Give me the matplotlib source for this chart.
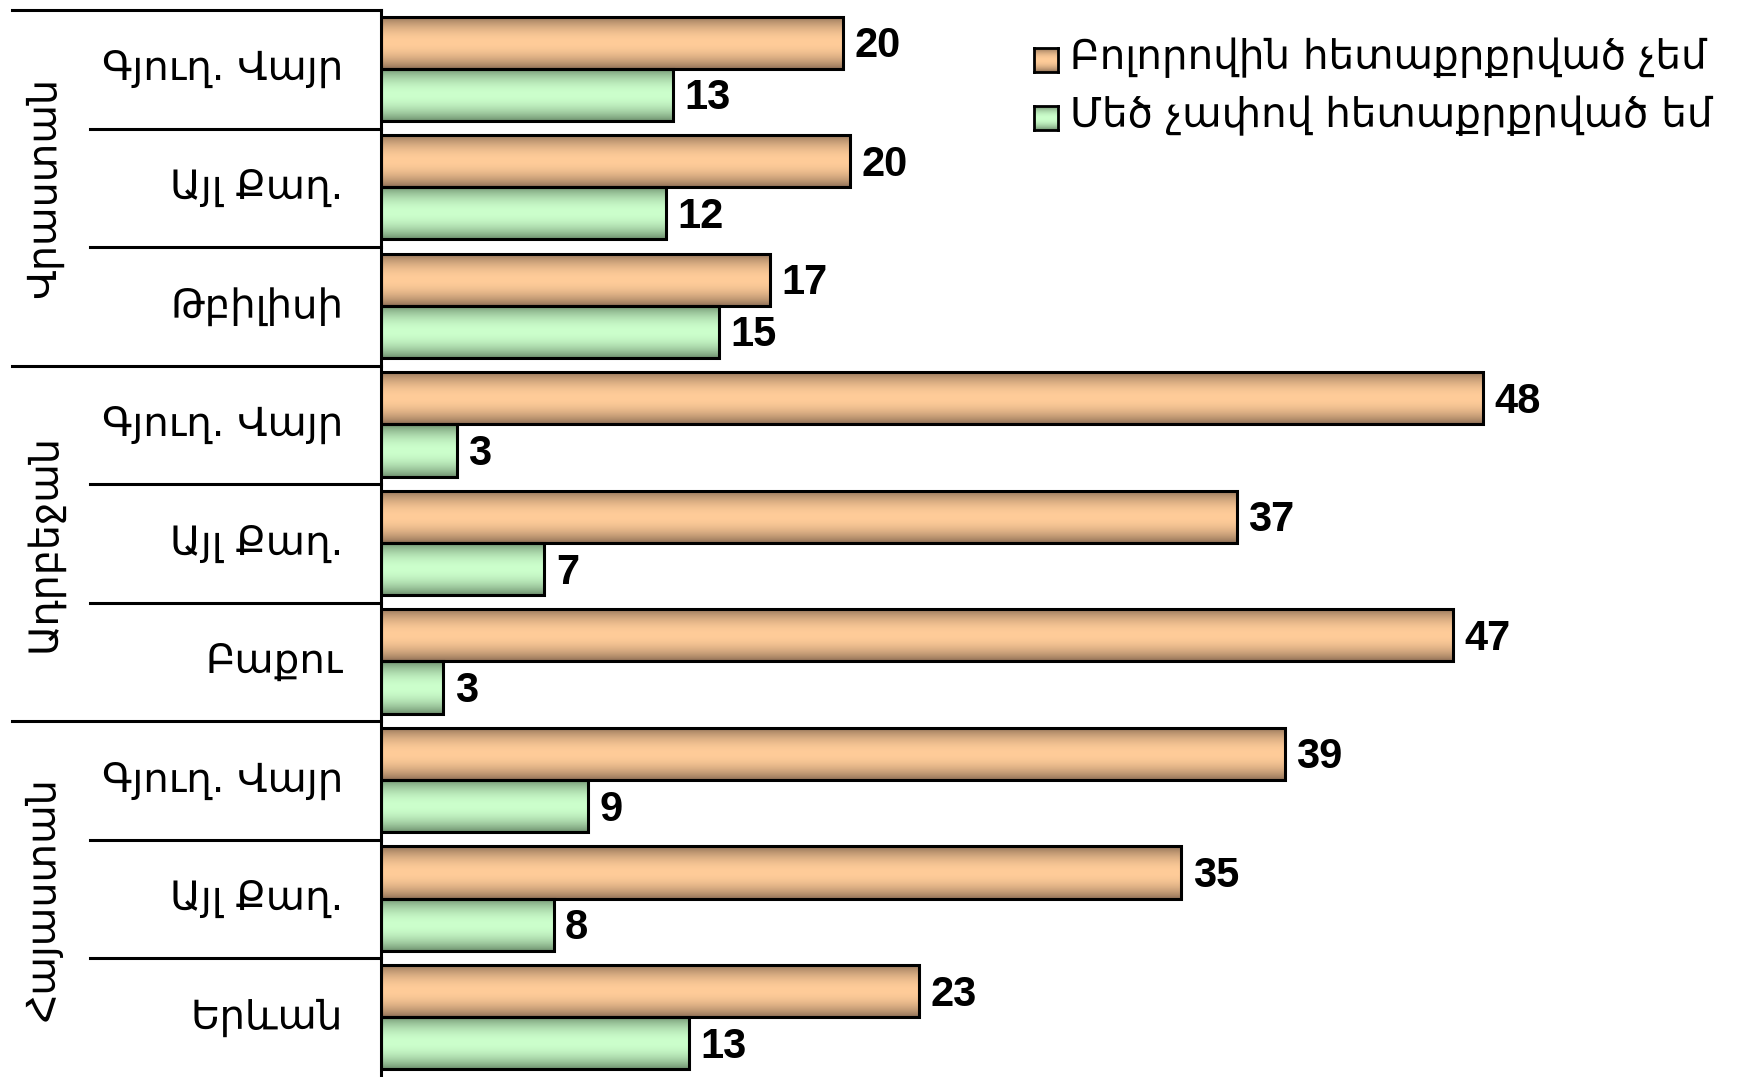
import numpy as np
import matplotlib
matplotlib.use('Agg')
import matplotlib.pyplot as plt
from matplotlib.patches import Rectangle
from matplotlib.transforms import blended_transform_factory

# Հարցման տվյալներ (%), ըստ երկրների և բնակավայրի տիպի
countries = ['Վրաստան', 'Ադրբեջան', 'Հայաստան']
places = ['Գյուղ. Վայր', 'Այլ Քաղ.', 'Թբիլիսի',
          'Գյուղ. Վայր', 'Այլ Քաղ.', 'Բաքու',
          'Գյուղ. Վայր', 'Այլ Քաղ.', 'Երևան']
not_interested = [20.1, 20.4, 16.9, 47.9, 37.2, 46.6, 39.3, 34.8, 23.4]
very_interested = [12.7, 12.4, 14.7, 3.3, 7.1, 2.7, 9.0, 7.5, 13.4]
series_names = ['Բոլորովին հետաքրքրված չեմ', 'Մեծ չափով հետաքրքրված եմ']

W, H = 1741, 1077
ORANGE = ((0.55, 0.43, 0.33), (1.0, 0.80, 0.60))
GREEN = ((0.42, 0.55, 0.42), (0.80, 1.0, 0.80))
LW = 2.2


def gradient(dark, light, n=80):
	t = np.linspace(0, 1, n)
	w = np.sin(np.pi * t) ** 0.8
	dark = np.array(dark)
	light = np.array(light)
	img = dark[None, :] * (1 - w[:, None]) + light[None, :] * w[:, None]
	return img[:, None, :]


fig = plt.figure(figsize=(W / 100, H / 100), dpi=100)
top = 1 - 10 / H
ax = fig.add_axes([381 / W, 0, 1 - 381 / W, top])

h = 0.44
for i in range(len(places)):
	for val, y, col in [(not_interested[i], i + 0.055, ORANGE),
	                    (very_interested[i], i + 0.495, GREEN)]:
		ax.imshow(gradient(*col), extent=[0, val, y + h, y], aspect='auto',
		          interpolation='bilinear', zorder=2)
		ax.add_patch(Rectangle((0, y), val, h, fill=False, ec='black', lw=LW, zorder=3))
		ax.text(val + 0.5, y + h / 2 + 0.03, f'{val:.0f}', va='center', ha='left',
		        fontsize=30, fontweight='bold', family='Liberation Sans')

ax.set_xlim(0, (W - 381) / 23.0)
ax.set_ylim(len(places), 0)
for s in ['top', 'right', 'bottom']:
	ax.spines[s].set_visible(False)
ax.spines['left'].set_linewidth(LW)
ax.set_xticks([])
ax.set_yticks([])

# տողերի բաժանարար գծեր և պիտակներ
tr = blended_transform_factory(fig.transFigure, ax.transData)
for k in range(len(places)):
	x0 = 12 / W if k % 3 == 0 else 90 / W
	ax.plot([x0, 381 / W], [k, k], color='black', lw=LW, transform=tr, clip_on=False)
	ax.text(343 / W, k + 0.5, places[k], transform=tr, ha='right', va='center',
	        fontsize=29, family='DejaVu Sans')
for g, name in enumerate(countries):
	ax.text(44 / W, g * 3 + 1.5, name, transform=tr, rotation=90, ha='center',
	        va='center', fontsize=28.5, family='DejaVu Sans')

# լեգենդ
for j, (name, col) in enumerate(zip(series_names, [ORANGE, GREEN])):
	cy = [60, 118][j]
	sax = fig.add_axes([1034 / W, 1 - (cy + 12) / H, 24 / W, 24 / H])
	sax.imshow(gradient(*col), aspect='auto', interpolation='bilinear')
	sax.set_xticks([])
	sax.set_yticks([])
	for s in sax.spines.values():
		s.set_linewidth(2.0)
	fig.text(1070 / W, 1 - (cy - 2) / H, name, ha='left', va='center', fontsize=29.2,
	         family='DejaVu Sans')

fig.savefig('out.png', dpi=100)
